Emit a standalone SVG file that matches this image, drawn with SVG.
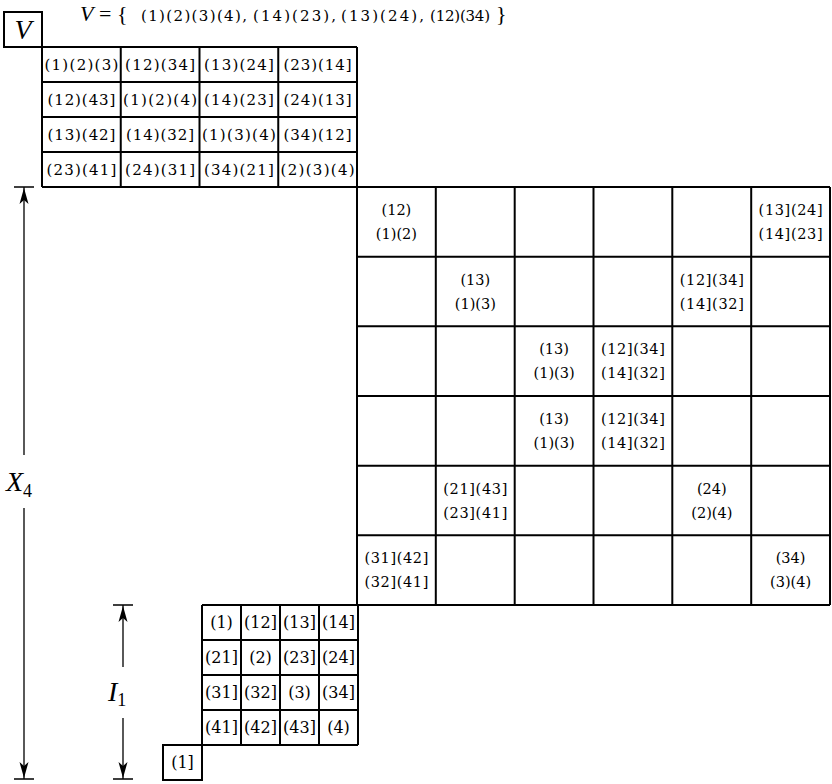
<svg xmlns="http://www.w3.org/2000/svg" width="832" height="784" viewBox="0 0 832 784">
<style>
.g{fill:none;stroke:#000;stroke-width:2}
.t{font-family:"DejaVu Serif","Liberation Serif",serif;fill:#000;text-anchor:middle}
.tg{font-size:15px}
.bg{font-size:14.5px}
.sg{font-size:16px}
.ti{font-family:"DejaVu Serif","Liberation Serif",serif;fill:#000;font-size:15px}
.it{font-family:"Liberation Serif","DejaVu Serif",serif;font-style:italic;fill:#000}
.dim{stroke:#000;stroke-width:1.3;fill:none}
.ah{fill:#000;stroke:none}
</style>
<rect width="832" height="784" fill="#fff"/>

<g id="title">
<text class="it" x="80" y="21" font-size="22">V</text>
<text x="99" y="21" font-family="Liberation Serif,serif" font-size="22">=</text>
<text x="117" y="21" font-family="Liberation Serif,serif" font-size="22">{</text>
<text class="ti" x="141" y="21" textLength="106" lengthAdjust="spacing">(1)(2)(3)(4),</text>
<text class="ti" x="253" y="21" textLength="83" lengthAdjust="spacing">(14)(23),</text>
<text class="ti" x="341" y="21" textLength="83" lengthAdjust="spacing">(13)(24),</text>
<text class="ti" x="430" y="21" textLength="60" lengthAdjust="spacing">(12)(34)</text>
<text x="496" y="21" font-family="Liberation Serif,serif" font-size="22">}</text>
</g>

<g id="V">
<rect class="g" x="4" y="12" width="38" height="35"/>
<text class="it" x="23" y="39" font-size="28" text-anchor="middle">V</text>
</g>

<g id="top-grid">
<path class="g" d="M42,47H357M42,82H357M42,117H357M42,152H357M42,187H357M42,47V187M120.75,47V187M199.5,47V187M278.25,47V187M357,47V187"/>
<g class="t tg">
<text x="81.4" y="70" textLength="74" lengthAdjust="spacing">(1)(2)(3)</text>
<text x="160.1" y="70" textLength="70" lengthAdjust="spacing">(12)(34]</text>
<text x="238.9" y="70" textLength="70" lengthAdjust="spacing">(13)(24]</text>
<text x="317.6" y="70" textLength="68" lengthAdjust="spacing">(23)(14]</text>
<text x="81.4" y="105" textLength="68" lengthAdjust="spacing">(12)(43]</text>
<text x="160.1" y="105" textLength="74" lengthAdjust="spacing">(1)(2)(4)</text>
<text x="238.9" y="105" textLength="70" lengthAdjust="spacing">(14)(23]</text>
<text x="317.6" y="105" textLength="68" lengthAdjust="spacing">(24)(13]</text>
<text x="81.4" y="140" textLength="68" lengthAdjust="spacing">(13)(42]</text>
<text x="160.1" y="140" textLength="68" lengthAdjust="spacing">(14)(32]</text>
<text x="238.9" y="140" textLength="74" lengthAdjust="spacing">(1)(3)(4)</text>
<text x="317.6" y="140" textLength="68" lengthAdjust="spacing">(34)(12]</text>
<text x="81.4" y="175" textLength="70" lengthAdjust="spacing">(23)(41]</text>
<text x="160.1" y="175" textLength="70" lengthAdjust="spacing">(24)(31]</text>
<text x="238.9" y="175" textLength="70" lengthAdjust="spacing">(34)(21]</text>
<text x="317.6" y="175" textLength="74" lengthAdjust="spacing">(2)(3)(4)</text>
</g>
</g>

<g id="X4-grid">
<path class="g" d="M357,187H830M357,256.7H830M357,326.3H830M357,396H830M357,465.7H830M357,535.3H830M357,605H830M357,187V605M435.8,187V605M514.7,187V605M593.5,187V605M672.3,187V605M751.2,187V605M830,187V605"/>
<g class="t bg">
<text x="396.4" y="215">(12)</text>
<text x="396.4" y="239">(1)(2)</text>
<text x="790.6" y="215" textLength="64" lengthAdjust="spacing">(13](24]</text>
<text x="790.6" y="239" textLength="64" lengthAdjust="spacing">(14](23]</text>
<text x="475.3" y="284.5">(13)</text>
<text x="475.3" y="308.5">(1)(3)</text>
<text x="711.8" y="284.5" textLength="64" lengthAdjust="spacing">(12](34]</text>
<text x="711.8" y="308.5" textLength="64" lengthAdjust="spacing">(14](32]</text>
<text x="554.1" y="354.2">(13)</text>
<text x="554.1" y="378.2">(1)(3)</text>
<text x="632.9" y="354.2" textLength="64" lengthAdjust="spacing">(12](34]</text>
<text x="632.9" y="378.2" textLength="64" lengthAdjust="spacing">(14](32]</text>
<text x="554.1" y="423.8">(13)</text>
<text x="554.1" y="447.8">(1)(3)</text>
<text x="632.9" y="423.8" textLength="64" lengthAdjust="spacing">(12](34]</text>
<text x="632.9" y="447.8" textLength="64" lengthAdjust="spacing">(14](32]</text>
<text x="475.3" y="493.5" textLength="64" lengthAdjust="spacing">(21](43]</text>
<text x="475.3" y="517.5" textLength="64" lengthAdjust="spacing">(23](41]</text>
<text x="711.8" y="493.5">(24)</text>
<text x="711.8" y="517.5">(2)(4)</text>
<text x="396.4" y="563.2" textLength="64" lengthAdjust="spacing">(31](42]</text>
<text x="396.4" y="587.2" textLength="64" lengthAdjust="spacing">(32](41]</text>
<text x="790.6" y="563.2">(34)</text>
<text x="790.6" y="587.2">(3)(4)</text>
</g>
</g>

<g id="I1-grid">
<path class="g" d="M202,605H358M202,640H358M202,675H358M202,710H358M202,745H358M202,605V745M241,605V745M280,605V745M319,605V745M358,605V745"/>
<g class="t sg">
<text x="221.5" y="628">(1)</text>
<text x="260.5" y="628">(12]</text>
<text x="299.5" y="628">(13]</text>
<text x="338.5" y="628">(14]</text>
<text x="221.5" y="663">(21]</text>
<text x="260.5" y="663">(2)</text>
<text x="299.5" y="663">(23]</text>
<text x="338.5" y="663">(24]</text>
<text x="221.5" y="698">(31]</text>
<text x="260.5" y="698">(32]</text>
<text x="299.5" y="698">(3)</text>
<text x="338.5" y="698">(34]</text>
<text x="221.5" y="733">(41]</text>
<text x="260.5" y="733">(42]</text>
<text x="299.5" y="733">(43]</text>
<text x="338.5" y="733">(4)</text>
</g>
</g>

<g id="unit-box">
<rect class="g" x="163" y="745" width="39" height="35"/>
<text class="t sg" x="182.5" y="768">(1]</text>
</g>

<g id="connectors">
<path class="dim" d="M14,187H34M24,187V455M24,508V779M14,779H34"/>
<path class="ah" d="M24,188L19.5,204L24,200L28.5,204Z"/>
<path class="ah" d="M24,778L19.5,762L24,766L28.5,762Z"/>
<path class="dim" d="M113,605H133M123,605V667M123,718V779M113,779H133"/>
<path class="ah" d="M123,606L118.5,622L123,618L127.5,622Z"/>
<path class="ah" d="M123,778L118.5,762L123,766L127.5,762Z"/>
</g>

<g id="labels">
<text class="it" x="6" y="491" font-size="28">X<tspan font-style="normal" font-size="18" dy="6">4</tspan></text>
<text class="it" x="108" y="701" font-size="28">I<tspan font-style="normal" font-size="18" dy="5">1</tspan></text>
</g>
</svg>
